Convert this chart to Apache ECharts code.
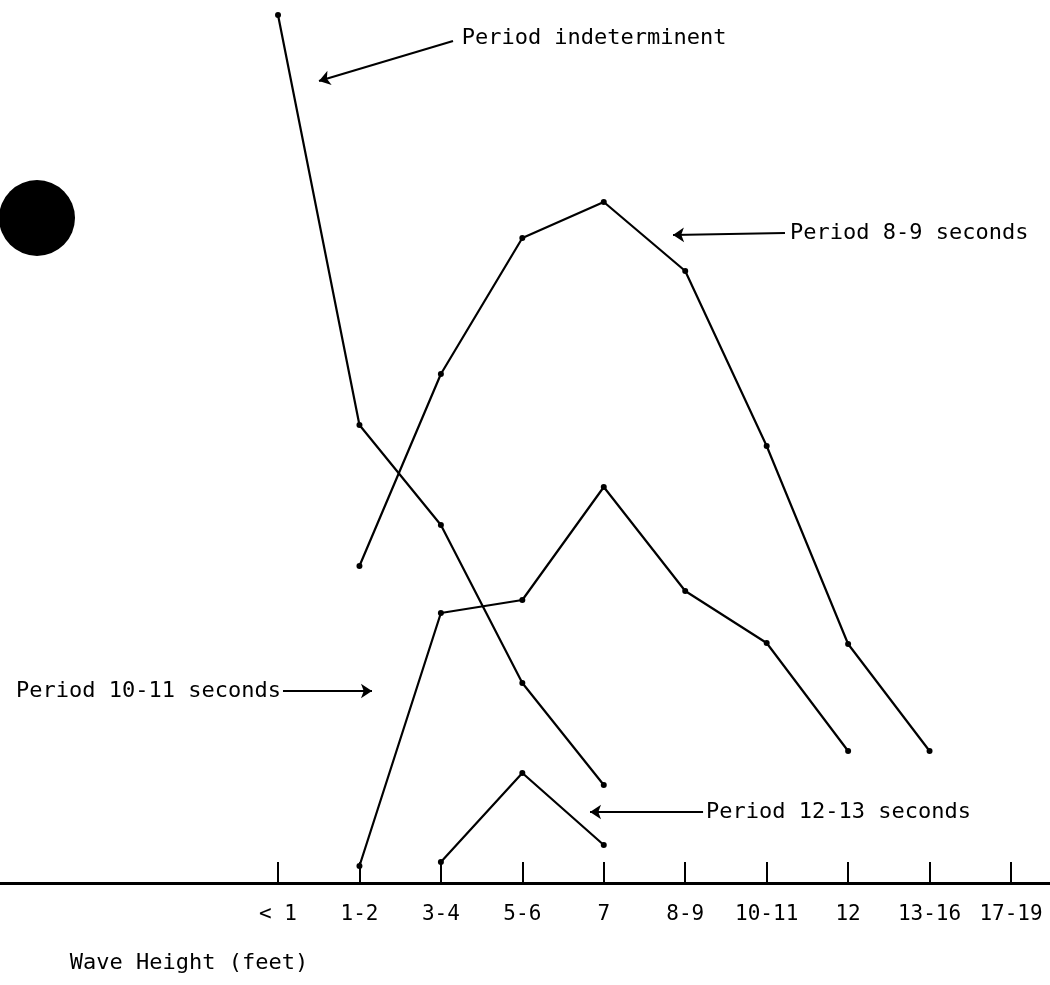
<!DOCTYPE html>
<html><head><meta charset="utf-8">
<script src="https://cdn.jsdelivr.net/npm/echarts@6/dist/echarts.min.js"></script>
<style>html,body{margin:0;padding:0;background:#fff}#c{width:1050px;height:985px}</style>
</head><body><div id="c"></div>
<script>
const categories = ['< 1', '1-2', '3-4', '5-6', '7', '8-9', '10-11', '12', '13-16', '17-19'];
const periodIndeterminent = [86.8, 45.8, 35.8, 20.0, 9.8, null, null, null, null, null];
const period8to9 = [null, 31.7, 50.9, 64.5, 68.1, 61.2, 43.7, 23.9, 13.2, null];
const period10to11 = [null, 1.7, 27.0, 28.3, 39.6, 29.2, 24.0, 13.2, null, null];
const period12to13 = [null, null, 2.1, 11.0, 3.8, null, null, null, null, null];
const seriesNames = ['Period indeterminent', 'Period 8-9 seconds', 'Period 10-11 seconds', 'Period 12-13 seconds'];
const axisName = 'Wave Height (feet)';

const FONT = 'DejaVu Sans Mono';
const toPairs = arr => arr.map((v, i) => v == null ? null : [i, v]).filter(p => p);
const tickIdx = categories.map((_, i) => i);

function annot(text, from, to, dist) {
  return {
    silent: true,
    animation: false,
    symbol: ['none', 'arrow'],
    symbolSize: 11,
    lineStyle: { color: '#000', width: 2.2, type: 'solid' },
    itemStyle: { color: '#000' },
    label: { show: true, position: 'start', distance: dist, formatter: text,
             color: '#000', fontFamily: FONT, fontSize: 22 },
    data: [[{ coord: from }, { coord: to }]]
  };
}

function mkSeries(name, arr, ml) {
  return {
    name, type: 'line', data: toPairs(arr),
    symbol: 'circle', symbolSize: 6, showSymbol: true,
    itemStyle: { color: '#000' },
    lineStyle: { color: '#000', width: 2.2 },
    animation: false,
    markLine: ml
  };
}

const chart = echarts.init(document.getElementById('c'));
chart.setOption({
  backgroundColor: '#fff',
  animation: false,
  grid: { left: 0, right: 0, top: 0, bottom: 102, containLabel: false },
  xAxis: {
    type: 'value',
    min: -3.4136, max: 9.479,
    splitLine: { show: false },
    axisLine: { show: true, lineStyle: { color: '#000', width: 3 } },
    axisTick: { show: true, inside: true, length: 21, customValues: tickIdx,
                lineStyle: { color: '#000', width: 2 } },
    axisLabel: { show: true, customValues: tickIdx, margin: 21,
                 formatter: v => categories[Math.round(v)] ?? '',
                 color: '#000', fontFamily: FONT, fontSize: 21 },
    name: axisName,
    nameLocation: 'middle',
    nameGap: 69,
    nameTextStyle: { color: '#000', fontFamily: FONT, fontSize: 22, padding: [0, 672, 0, 0] }
  },
  yAxis: { type: 'value', min: 0, max: 88.3, show: false, splitLine: { show: false } },
  graphic: [
    { type: 'circle', shape: { cx: 37, cy: 218, r: 38 }, style: { fill: '#000' }, silent: true }
  ],
  series: [
    mkSeries(seriesNames[0], periodIndeterminent, annot(seriesNames[0], [2.149, 84.2], [0.503, 80.2], 9)),
    mkSeries(seriesNames[1], period8to9, annot(seriesNames[1], [6.225, 65.0], [4.850, 64.8], 5)),
    mkSeries(seriesNames[2], period10to11, annot(seriesNames[2], [0.061, 19.2], [1.154, 19.2], 2)),
    mkSeries(seriesNames[3], period12to13, annot(seriesNames[3], [5.219, 7.1], [3.831, 7.1], 3))
  ]
});
</script></body></html>
